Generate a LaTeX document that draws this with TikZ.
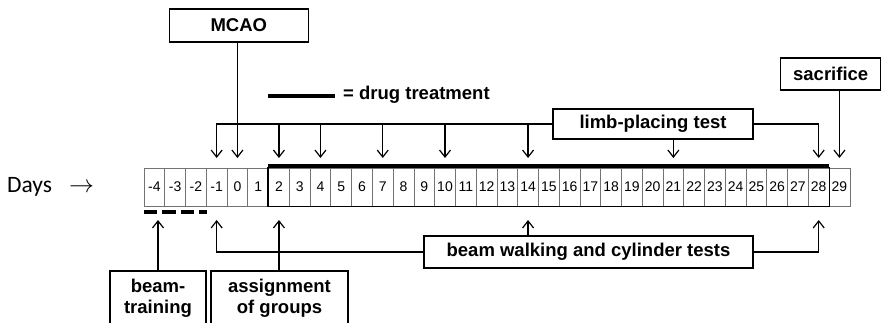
\documentclass[tikz,border=0pt]{standalone}
\usepackage{fontspec}
\setmainfont{Liberation Sans}
\newfontfamily\calfont{Carlito}
\usetikzlibrary{arrows.meta,calc}
\begin{document}
\begin{tikzpicture}[x=1pt,y=-1pt,
  lbl/.style={draw, line width=1.2pt, font=\fontsize{18.5}{21}\selectfont\bfseries, inner sep=0pt, align=center},
  cell/.style={draw=black!55, line width=0.7pt, minimum width=20.76pt, minimum height=38pt, inner sep=0pt, font=\fontsize{14}{14}\selectfont},
  conn/.style={line width=1.2pt},
  arr/.style={conn, -{Straight Barb[length=7pt,width=11pt,line width=1.2pt]}}
]
\useasboundingbox (0,0) rectangle (885,323);
% day cells
\foreach \i in {0,...,33} {
  \pgfmathtruncatemacro\d{\i-4}
  \node[cell] (c\i) at ({144+(\i+0.5)*20.76},187) {\d};
}
% drug treatment frame
\draw[line width=1.6pt] (c6.north west) rectangle (c32.south east);
\draw[line width=4.5pt] ([yshift=1.5pt]c6.north west) -- ([yshift=1.5pt]c32.north east);
% beam training dashes
\draw[line width=3.5pt, dash pattern=on 13.5pt off 5pt] ([yshift=-5.5pt]c0.south west) -- ([yshift=-5.5pt]c2.south east);

% label boxes
\node[lbl, minimum width=139pt, minimum height=33pt] (mcao) at (238.8,25.5) {MCAO};
\node[lbl, minimum width=100pt, minimum height=32pt] (sac) at (830.7,74) {sacrifice};
\node[lbl, minimum width=200pt, minimum height=30pt] (limb) at (653,124) {limb-placing test};
\node[lbl, minimum width=329pt, minimum height=32pt] (beam) at (588.5,252) {beam walking and cylinder tests};
\node[lbl, minimum width=96pt, minimum height=55pt] (train) at (158,298.5) {beam-\\training};
\node[lbl, minimum width=137pt, minimum height=55pt] (assign) at (279.5,298.5) {assignment\\of groups};

% legend
\coordinate (lgA) at (268,96);
\coordinate (lgB) at (335,96);
\draw[line width=4.5pt] (lgA) -- (lgB);
\node[anchor=west, inner sep=0pt, font=\fontsize{18.5}{21}\selectfont\bfseries] (drug) at (343,95) {= drug treatment};

% Days
\node[anchor=base west, inner sep=0pt, font=\calfont\fontsize{23.5}{24}\selectfont] (days) at (7,193) {Days\hspace{17pt}$\rightarrow$};

% top arrows
\coordinate (tip) at (0,158);
\draw[arr] (limb.west) -- (c3 |- limb.west) -- (c3 |- tip);
\draw[arr] (limb.east) -- (c32 |- limb.east) -- (c32 |- tip);
\foreach \i in {6,8,11,14,18} \draw[arr] (c\i |- limb.west) -- (c\i |- tip);
\draw[arr] (c25 |- limb.south) -- (c25 |- tip);
\draw[arr] (c4 |- mcao.south) -- (c4 |- tip);
\draw[arr] (c33 |- sac.south) -- (c33 |- tip);

% bottom arrows
\coordinate (btip) at (0,220);
\draw[arr] (train.north) -- (train.north |- btip);
\draw[arr] (c6 |- assign.north) -- (c6 |- btip);
\draw[arr] (beam.west) -- (c3 |- beam.west) -- (c3 |- btip);
\draw[arr] (c18 |- beam.north) -- (c18 |- btip);
\draw[arr] (beam.east) -- (c32 |- beam.east) -- (c32 |- btip);
\end{tikzpicture}
\end{document}
